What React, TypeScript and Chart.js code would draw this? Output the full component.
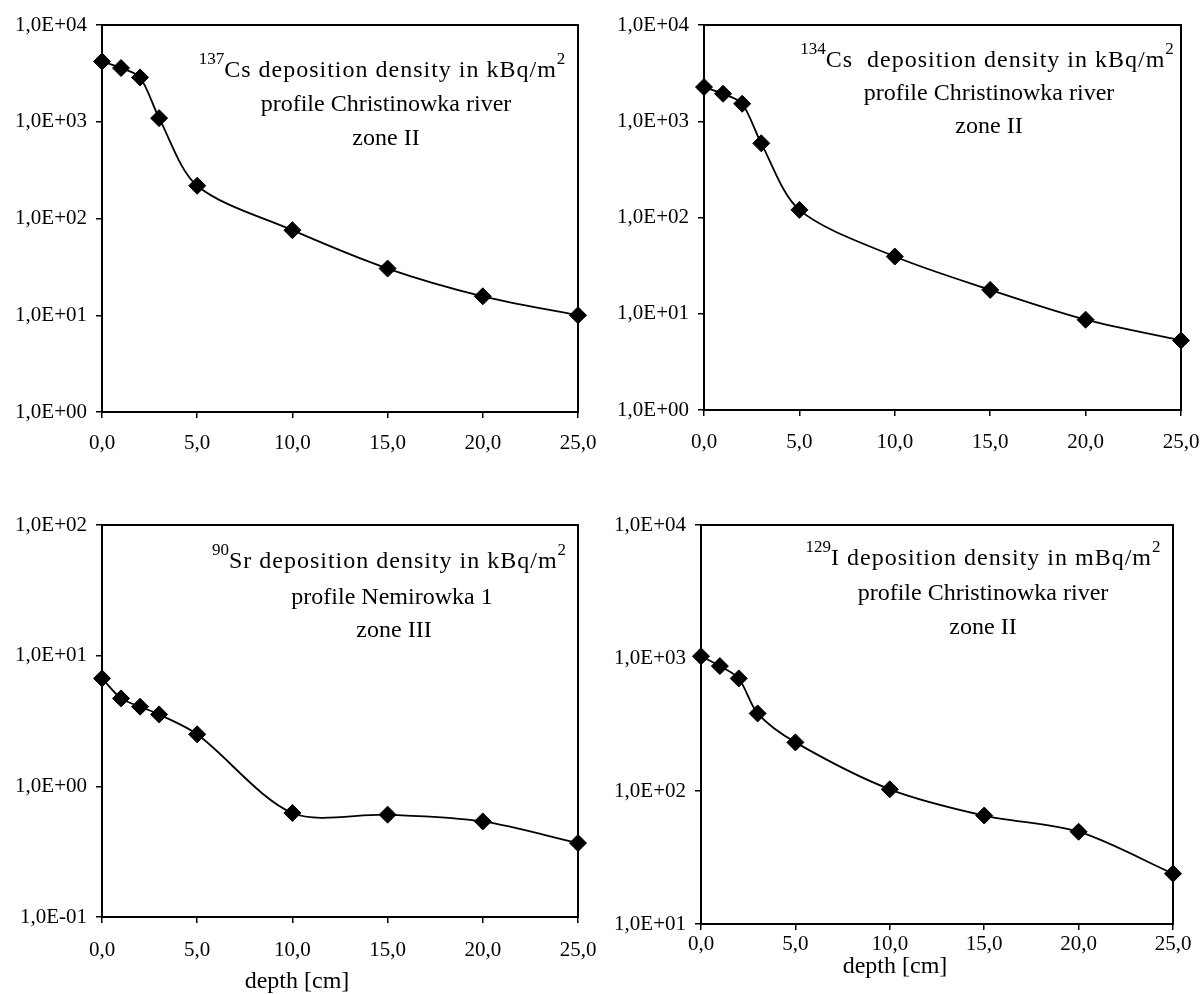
import React, { useEffect, useRef } from 'react';
import { Chart, registerables } from 'chart.js';

Chart.register(...registerables);

// ---------- data ----------
const depths = [0, 1, 2, 3, 5, 10, 15, 20, 25];
const cs137 = [4200, 3590, 2870, 1090, 218, 75.7, 30.4, 15.7, 10.0];
const cs134 = [2265, 1930, 1520, 590, 120, 39.3, 17.7, 8.67, 5.28];
const sr90 = [6.7, 4.71, 4.07, 3.55, 2.5, 0.625, 0.607, 0.539, 0.368];
const i129 = [1030, 869, 702, 383, 232, 103, 65.4, 49.4, 23.9];

const xTickValues = [0, 5, 10, 15, 20, 25];
const xTickLabels = ['0,0', '5,0', '10,0', '15,0', '20,0', '25,0'];

const yTicks137 = [1, 10, 100, 1000, 10000];
const yTicks134 = [1, 10, 100, 1000, 10000];
const yTicks90 = [0.1, 1, 10, 100];
const yTicks129 = [10, 100, 1000, 10000];

const axisTitle = 'depth [cm]';

type Seg = { t: string; sup?: boolean };
const notes137: Seg[][] = [
  [{ t: '137', sup: true }, { t: 'Cs deposition density in kBq/m' }, { t: '2', sup: true }],
  [{ t: 'profile Christinowka river' }],
  [{ t: 'zone II' }],
];
const notes134: Seg[][] = [
  [{ t: '134', sup: true }, { t: 'Cs  deposition density in kBq/m' }, { t: '2', sup: true }],
  [{ t: 'profile Christinowka river' }],
  [{ t: 'zone II' }],
];
const notes90: Seg[][] = [
  [{ t: '90', sup: true }, { t: 'Sr deposition density in kBq/m' }, { t: '2', sup: true }],
  [{ t: 'profile Nemirowka 1' }],
  [{ t: 'zone III' }],
];
const notes129: Seg[][] = [
  [{ t: '129', sup: true }, { t: 'I deposition density in mBq/m' }, { t: '2', sup: true }],
  [{ t: 'profile Christinowka river' }],
  [{ t: 'zone II' }],
];

// ---------- styling / layout ----------
const FAMILY = '"Liberation Serif", "Times New Roman", serif';
const TICK_SIZE = 21;
const NOTE_SIZE = 24;
const SUP_SIZE = 17;
const SUP_RAISE = 13;
const FIRST_LINE_SPACING = '1px';

function expLabel(v: number): string {
  const e = Math.round(Math.log10(v));
  const s = e < 0 ? '-' : '+';
  return '1,0E' + s + String(Math.abs(e)).padStart(2, '0');
}

type PanelCfg = {
  left: number; top: number; width: number; height: number;
  yW: number; padTop: number; padRight: number; xH: number; xPad: number;
  values: number[]; yTicks: number[]; notes: Seg[][];
  noteX: number[]; noteY: number[]; title: boolean; titleX: number; titleY: number;
};

const panels: PanelCfg[] = [
  { left: 0, top: 0, width: 618, height: 490, yW: 102, padTop: 25, padRight: 40, xH: 78, xPad: 13,
    values: cs137, yTicks: yTicks137, notes: notes137, noteX: [382, 386, 386], noteY: [77, 111, 145],
    title: false, titleX: 0, titleY: 0 },
  { left: 600, top: 0, width: 621, height: 490, yW: 104, padTop: 25, padRight: 40, xH: 80, xPad: 14,
    values: cs134, yTicks: yTicks134, notes: notes134, noteX: [387, 389, 389], noteY: [67, 100, 133],
    title: false, titleX: 0, titleY: 0 },
  { left: 0, top: 490, width: 618, height: 510, yW: 102, padTop: 35, padRight: 40, xH: 83, xPad: 15,
    values: sr90, yTicks: yTicks90, notes: notes90, noteX: [389, 392, 394], noteY: [78, 114, 147],
    title: true, titleX: 297, titleY: 492 },
  { left: 600, top: 490, width: 613, height: 510, yW: 101, padTop: 35, padRight: 40, xH: 76, xPad: 2,
    values: i129, yTicks: yTicks129, notes: notes129, noteX: [383, 383, 383], noteY: [75, 110, 144],
    title: true, titleX: 295, titleY: 477 },
];

function Panel({ cfg }: { cfg: PanelCfg }) {
  const ref = useRef<HTMLCanvasElement | null>(null);
  useEffect(() => {
    if (!ref.current) return;
    const boxPlugin = {
      id: 'box',
      beforeDatasetsDraw(chart: any) {
        const { ctx, chartArea: a } = chart;
        ctx.save();
        ctx.strokeStyle = '#000';
        ctx.lineWidth = 2;
        ctx.strokeRect(a.left, a.top, a.right - a.left, a.bottom - a.top);
        ctx.restore();
      },
      afterDraw(chart: any) {
        const ctx = chart.ctx;
        ctx.save();
        ctx.fillStyle = '#000';
        ctx.textAlign = 'left';
        ctx.textBaseline = 'alphabetic';
        const mainFont = `${NOTE_SIZE}px ${FAMILY}`;
        const supFont = `${SUP_SIZE}px ${FAMILY}`;
        cfg.notes.forEach((line, i) => {
          const spacing = i === 0 ? FIRST_LINE_SPACING : '0px';
          let total = 0;
          const widths = line.map((s) => {
            ctx.font = s.sup ? supFont : mainFont;
            (ctx as any).letterSpacing = s.sup ? '0px' : spacing;
            const w = ctx.measureText(s.t).width;
            total += w;
            return w;
          });
          let x = cfg.noteX[i] - total / 2;
          const y = cfg.noteY[i];
          line.forEach((s, j) => {
            ctx.font = s.sup ? supFont : mainFont;
            (ctx as any).letterSpacing = s.sup ? '0px' : spacing;
            ctx.fillText(s.t, x, s.sup ? y - SUP_RAISE : y);
            x += widths[j];
          });
        });
        (ctx as any).letterSpacing = '0px';
        if (cfg.title) {
          ctx.font = mainFont;
          ctx.textAlign = 'center';
          ctx.textBaseline = 'middle';
          ctx.fillText(axisTitle, cfg.titleX, cfg.titleY);
        }
        ctx.restore();
      },
    };

    const tickFont = { family: FAMILY, size: TICK_SIZE };
    const chart = new Chart(ref.current, {
      type: 'line',
      data: {
        datasets: [
          {
            data: depths.map((d, i) => ({ x: d, y: cfg.values[i] })),
            borderColor: '#000',
            borderWidth: 1.8,
            backgroundColor: '#000',
            pointStyle: 'rectRot',
            pointRadius: 8.5,
            pointBorderWidth: 1,
            pointBackgroundColor: '#000',
            pointBorderColor: '#000',
            tension: 0.3,
            fill: false,
            clip: false,
          } as any,
        ],
      },
      options: {
        animation: false,
        responsive: false,
        events: [],
        layout: { padding: { top: cfg.padTop, right: cfg.padRight, left: 0, bottom: 0 } },
        plugins: { legend: { display: false }, tooltip: { enabled: false } },
        scales: {
          x: {
            type: 'linear',
            min: 0,
            max: 25,
            afterBuildTicks: (s: any) => {
              s.ticks = xTickValues.map((v) => ({ value: v }));
            },
            afterFit: (s: any) => {
              s.height = cfg.xH;
            },
            ticks: {
              font: tickFont,
              color: '#000',
              padding: cfg.xPad,
              maxRotation: 0,
              autoSkip: false,
              callback: (v: any) => {
                const idx = xTickValues.indexOf(Number(v));
                return idx >= 0 ? xTickLabels[idx] : '';
              },
            },
            grid: { drawOnChartArea: false, drawTicks: true, tickLength: 6, color: '#000', lineWidth: 1.5 },
            border: { display: true, color: '#000', width: 2 },
          },
          y: {
            type: 'logarithmic',
            min: cfg.yTicks[0],
            max: cfg.yTicks[cfg.yTicks.length - 1],
            afterBuildTicks: (s: any) => {
              s.ticks = cfg.yTicks.map((v) => ({ value: v }));
            },
            afterFit: (s: any) => {
              s.width = cfg.yW;
            },
            ticks: {
              font: tickFont,
              color: '#000',
              padding: 9,
              autoSkip: false,
              callback: (v: any) => expLabel(Number(v)),
            },
            grid: { drawOnChartArea: false, drawTicks: true, tickLength: 6, color: '#000', lineWidth: 1.5 },
            border: { display: true, color: '#000', width: 2 },
          },
        },
      },
      plugins: [boxPlugin],
    } as any);
    return () => chart.destroy();
  }, [cfg]);

  return (
    <canvas
      ref={ref}
      width={cfg.width}
      height={cfg.height}
      style={{ position: 'absolute', left: cfg.left, top: cfg.top, width: cfg.width, height: cfg.height }}
    />
  );
}

export default function App() {
  return (
    <div
      style={{
        position: 'fixed',
        left: 0,
        top: 0,
        width: 1204,
        height: 994,
        background: '#fff',
        overflow: 'hidden',
      }}
    >
      {panels.map((p, i) => (
        <Panel key={i} cfg={p} />
      ))}
    </div>
  );
}
